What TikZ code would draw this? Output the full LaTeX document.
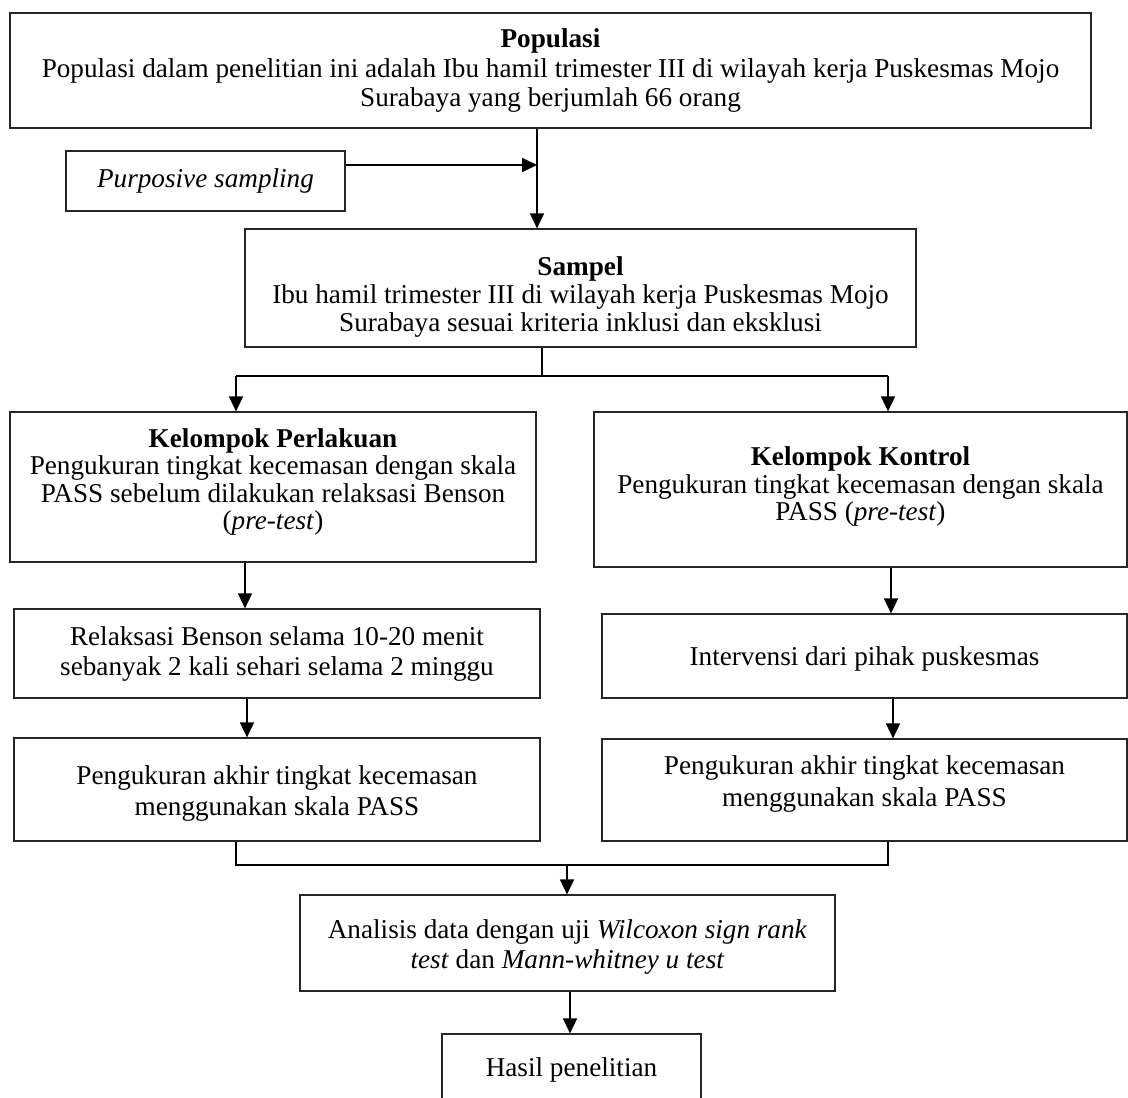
\documentclass[tikz,border=0pt]{standalone}
\usepackage{fontspec}
\setmainfont{Liberation Serif}
\usetikzlibrary{arrows.meta}
\tikzset{
  box/.style={draw=black!85, line width=0.6pt, rectangle, inner sep=0pt},
  txt/.style={inner sep=0pt, align=center, font=\fontsize{13.6}{15}\selectfont},
  tight/.style={font=\fontsize{13.6}{13.8}\selectfont},
  arr/.style={line width=0.85pt, -{Triangle[length=7.5pt,width=7pt]}},
  ln/.style={line width=0.85pt}
}
\begin{document}
\begin{tikzpicture}[x=0.5pt,y=-0.5pt]
\useasboundingbox (0,0) rectangle (1128,1097);
\clip (0,0) rectangle (1128,1097);
% boxes
\node[box, minimum width=540.5pt, minimum height=57.5pt,
  label={[txt,font=\fontsize{13.6}{14.8}\selectfont]center:{\textbf{Populasi}\\Populasi dalam penelitian ini adalah Ibu hamil trimester III di wilayah kerja Puskesmas Mojo\\Surabaya yang berjumlah 66 orang}}] (pop) at (550.5,70.5) {};
\node[box, minimum width=139.5pt, minimum height=30pt,
  label={[txt]center:{\textit{Purposive sampling}}}] (purp) at (205.5,181) {};
\node[box, minimum width=335.5pt, minimum height=59pt,
  label={[txt,tight,yshift=-4.5pt]center:{\textbf{Sampel}\\Ibu hamil trimester III di wilayah kerja Puskesmas Mojo\\Surabaya sesuai kriteria inklusi dan eksklusi}}] (samp) at (580.5,288) {};
\node[box, minimum width=263pt, minimum height=75pt,
  label={[txt,tight,yshift=2.5pt]center:{\textbf{Kelompok Perlakuan}\\Pengukuran tingkat kecemasan dengan skala\\PASS sebelum dilakukan relaksasi Benson\\(\textit{pre-test})}}] (perl) at (273,487) {};
\node[box, minimum width=266.5pt, minimum height=77.5pt,
  label={[txt,tight,yshift=1.5pt]center:{\textbf{Kelompok Kontrol}\\Pengukuran tingkat kecemasan dengan skala\\PASS (\textit{pre-test})}}] (kont) at (860.5,489.5) {};
\node[box, minimum width=263pt, minimum height=44.5pt,
  label={[txt]center:{Relaksasi Benson selama 10-20 menit\\sebanyak 2 kali sehari selama 2 minggu}}] (rel) at (277,653.5) {};
\node[box, minimum width=262.5pt, minimum height=42pt,
  label={[txt,yshift=-1.5pt]center:{Intervensi dari pihak puskesmas}}] (intv) at (864.5,656) {};
\node[box, minimum width=263pt, minimum height=51.5pt,
  label={[txt,font=\fontsize{13.6}{15.5}\selectfont,yshift=-2pt]center:{Pengukuran akhir tingkat kecemasan\\menggunakan skala PASS}}] (akhL) at (277,789.5) {};
\node[box, minimum width=262.5pt, minimum height=51pt,
  label={[txt,font=\fontsize{13.6}{16}\selectfont,yshift=3pt]center:{Pengukuran akhir tingkat kecemasan\\menggunakan skala PASS}}] (akhR) at (864.5,790) {};
\node[box, minimum width=267.5pt, minimum height=48pt,
  label={[txt,yshift=-2pt]center:{Analisis data dengan uji \textit{Wilcoxon sign rank}\\\textit{test} dan \textit{Mann-whitney u test}}}] (anal) at (567.5,943) {};
\node[box, minimum width=129.5pt, minimum height=36pt,
  label={[txt]center:{Hasil penelitian}}] (hasil) at (571.5,1070) {};
% helper coordinates
\coordinate (v1) at (537,165);
\coordinate (v2) at (542,376);
\coordinate (lL) at (236,376);
\coordinate (lR) at (888,376);
\coordinate (bL) at (236,865);
\coordinate (bR) at (888,865);
\coordinate (bM) at (567,865);
\coordinate (xa) at (245,0);
\coordinate (xb) at (891,0);
\coordinate (xc) at (247,0);
\coordinate (xd) at (893,0);
\coordinate (xe) at (570,0);
% connectors
\draw[arr] (pop.south -| v1) -- (samp.north -| v1);
\draw[arr] (purp.east |- v1) -- (v1);
\draw[ln] (samp.south -| v2) -- (v2);
\draw[ln] (lL) -- (lR);
\draw[arr] (lL) -- (perl.north -| lL);
\draw[arr] (lR) -- (kont.north -| lR);
\draw[arr] (perl.south -| xa) -- (rel.north -| xa);
\draw[arr] (kont.south -| xb) -- (intv.north -| xb);
\draw[arr] (rel.south -| xc) -- (akhL.north -| xc);
\draw[arr] (intv.south -| xd) -- (akhR.north -| xd);
\draw[ln] (akhL.south -| bL) -- (bL) -- (bR) -- (akhR.south -| bR);
\draw[arr] (bM) -- (anal.north -| bM);
\draw[arr] (anal.south -| xe) -- (hasil.north -| xe);
\end{tikzpicture}
\end{document}
